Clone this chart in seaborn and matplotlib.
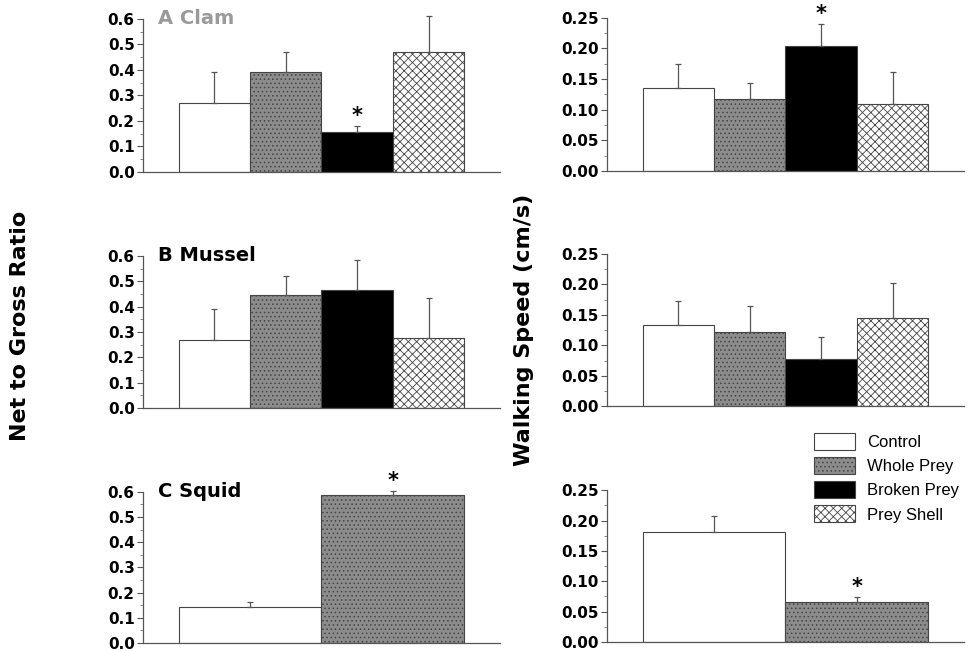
import numpy as np
import pandas as pd
import matplotlib
matplotlib.use("Agg")
import matplotlib.pyplot as plt
import matplotlib.ticker as mticker
from matplotlib.patches import Patch
import seaborn as sns

# ── Data (means and standard errors) ─────────────────────────────────────────
categories = ["Control", "Whole Prey", "Broken Prey", "Prey Shell"]
squid_categories = ["Control", "Whole Prey"]

clam_ratio = [0.27, 0.39, 0.155, 0.47]
clam_ratio_se = [0.12, 0.08, 0.025, 0.14]
mussel_ratio = [0.27, 0.445, 0.465, 0.275]
mussel_ratio_se = [0.12, 0.075, 0.12, 0.16]
squid_ratio = [0.143, 0.587]
squid_ratio_se = [0.02, 0.018]

clam_speed = [0.135, 0.117, 0.203, 0.109]
clam_speed_se = [0.039, 0.027, 0.037, 0.053]
mussel_speed = [0.133, 0.122, 0.077, 0.145]
mussel_speed_se = [0.040, 0.043, 0.037, 0.058]
squid_speed = [0.181, 0.066]
squid_speed_se = [0.026, 0.008]

# which bars carry a significance asterisk
clam_ratio_sig = ["Broken Prey"]
clam_speed_sig = ["Broken Prey"]
squid_ratio_sig = ["Whole Prey"]
squid_speed_sig = ["Whole Prey"]

# ── Styles ───────────────────────────────────────────────────────────────────
FACE = {"Control": "white", "Whole Prey": "#8c8c8c",
        "Broken Prey": "black", "Prey Shell": "white"}
HATCH = {"Control": "", "Whole Prey": "....", "Broken Prey": "",
         "Prey Shell": "xxxx"}
LEGEND_FONT = ["Liberation Sans", "DejaVu Sans"]

sns.set_theme(style="ticks")
plt.rcParams["font.family"] = ["DejaVu Sans"]
plt.rcParams["text.color"] = "black"
plt.rcParams["axes.labelcolor"] = "black"
plt.rcParams["hatch.color"] = "#666666"
plt.rcParams["hatch.linewidth"] = 0.6

fig = plt.figure(figsize=(9.75, 6.51), dpi=100)

LEFT_X, RIGHT_X, W = 0.1467, 0.6226, 0.366
ROWS_L = [(0.736, 0.235), (0.373, 0.234), (0.0125, 0.232)]
ROWS_R = [(0.737, 0.236), (0.376, 0.234), (0.014, 0.233)]


def draw_panel(ax, cats, vals, errs, sig, ymax, fmt, major, label=None,
               label_color="black"):
    df = pd.DataFrame({"group": cats, "value": vals})
    sns.barplot(data=df, x="group", y="value", hue="group",
                palette=[FACE[c] for c in cats], legend=False, width=1.0,
                edgecolor="#444444", linewidth=0.8, errorbar=None, ax=ax)
    for patch, c in zip(ax.patches, cats):
        patch.set_hatch(HATCH[c])
    x = np.arange(len(cats))
    ax.errorbar(x, vals, yerr=[np.zeros(len(errs)), errs], fmt="none",
                ecolor="#555555", elinewidth=0.9, capsize=2.5, capthick=0.9,
                clip_on=False, zorder=4)
    for i, c in enumerate(cats):
        if c in sig:
            ax.text(i, vals[i] + errs[i], "*", ha="center", va="bottom",
                    fontsize=15, fontweight="bold", clip_on=False)
    n = len(cats)
    pad = 0.5 if n == 4 else 0.25
    ax.set_xlim(-0.5 - pad, n - 0.5 + pad)
    ax.set_ylim(0, ymax)
    ax.yaxis.set_major_locator(mticker.MultipleLocator(major))
    ax.yaxis.set_minor_locator(mticker.MultipleLocator(major / 2))
    ax.yaxis.set_major_formatter(mticker.FormatStrFormatter(fmt))
    ax.set_xticks([])
    ax.set_xlabel("")
    ax.set_ylabel("")
    ax.tick_params(axis="y", which="major", length=4, width=0.8, pad=2,
                   labelsize=11, colors="#555555", labelcolor="black")
    ax.tick_params(axis="y", which="minor", length=2, width=0.6,
                   colors="#777777")
    for t in ax.get_yticklabels():
        t.set_fontweight("bold")
    sns.despine(ax=ax)
    for s in ("left", "bottom"):
        ax.spines[s].set_color("#555555")
        ax.spines[s].set_linewidth(0.9)
    ax.set_facecolor("white")
    if label:
        ax.text(0.043, 1.0, label, transform=ax.transAxes, ha="left",
                va="center", fontsize=14, fontweight="bold",
                color=label_color)


left_data = [(categories, clam_ratio, clam_ratio_se, clam_ratio_sig, "A Clam", "#9a9a9a"),
             (categories, mussel_ratio, mussel_ratio_se, [], "B Mussel", "black"),
             (squid_categories, squid_ratio, squid_ratio_se, squid_ratio_sig, "C Squid", "black")]
right_data = [(categories, clam_speed, clam_speed_se, clam_speed_sig),
              (categories, mussel_speed, mussel_speed_se, []),
              (squid_categories, squid_speed, squid_speed_se, squid_speed_sig)]

for (b, h), (cats, v, e, s, lab, col) in zip(ROWS_L, left_data):
    ax = fig.add_axes([LEFT_X, b, W, h])
    draw_panel(ax, cats, v, e, s, 0.6, "%.1f", 0.1, lab, col)

for (b, h), (cats, v, e, s) in zip(ROWS_R, right_data):
    ax = fig.add_axes([RIGHT_X, b, W, h])
    draw_panel(ax, cats, v, e, s, 0.25, "%.2f", 0.05)

fig.text(0.021, 0.5, "Net to Gross Ratio", rotation=90, ha="center",
         va="center", fontsize=16, fontweight="bold")
fig.text(0.537, 0.493, "Walking Speed (cm/s)", rotation=90, ha="center",
         va="center", fontsize=16, fontweight="bold")

handles = [Patch(facecolor=FACE[c], hatch=HATCH[c], edgecolor="#444444",
                 linewidth=0.8, label=c) for c in categories]
fig.legend(handles=handles, loc="upper left", bbox_to_anchor=(0.835, 0.335),
           frameon=False, prop={"family": LEGEND_FONT, "size": 12},
           handlelength=2.45, handleheight=1.2, handletextpad=0.7,
           labelspacing=0.42, borderaxespad=0, borderpad=0)

fig.savefig("out.png", dpi=100, facecolor="white")
